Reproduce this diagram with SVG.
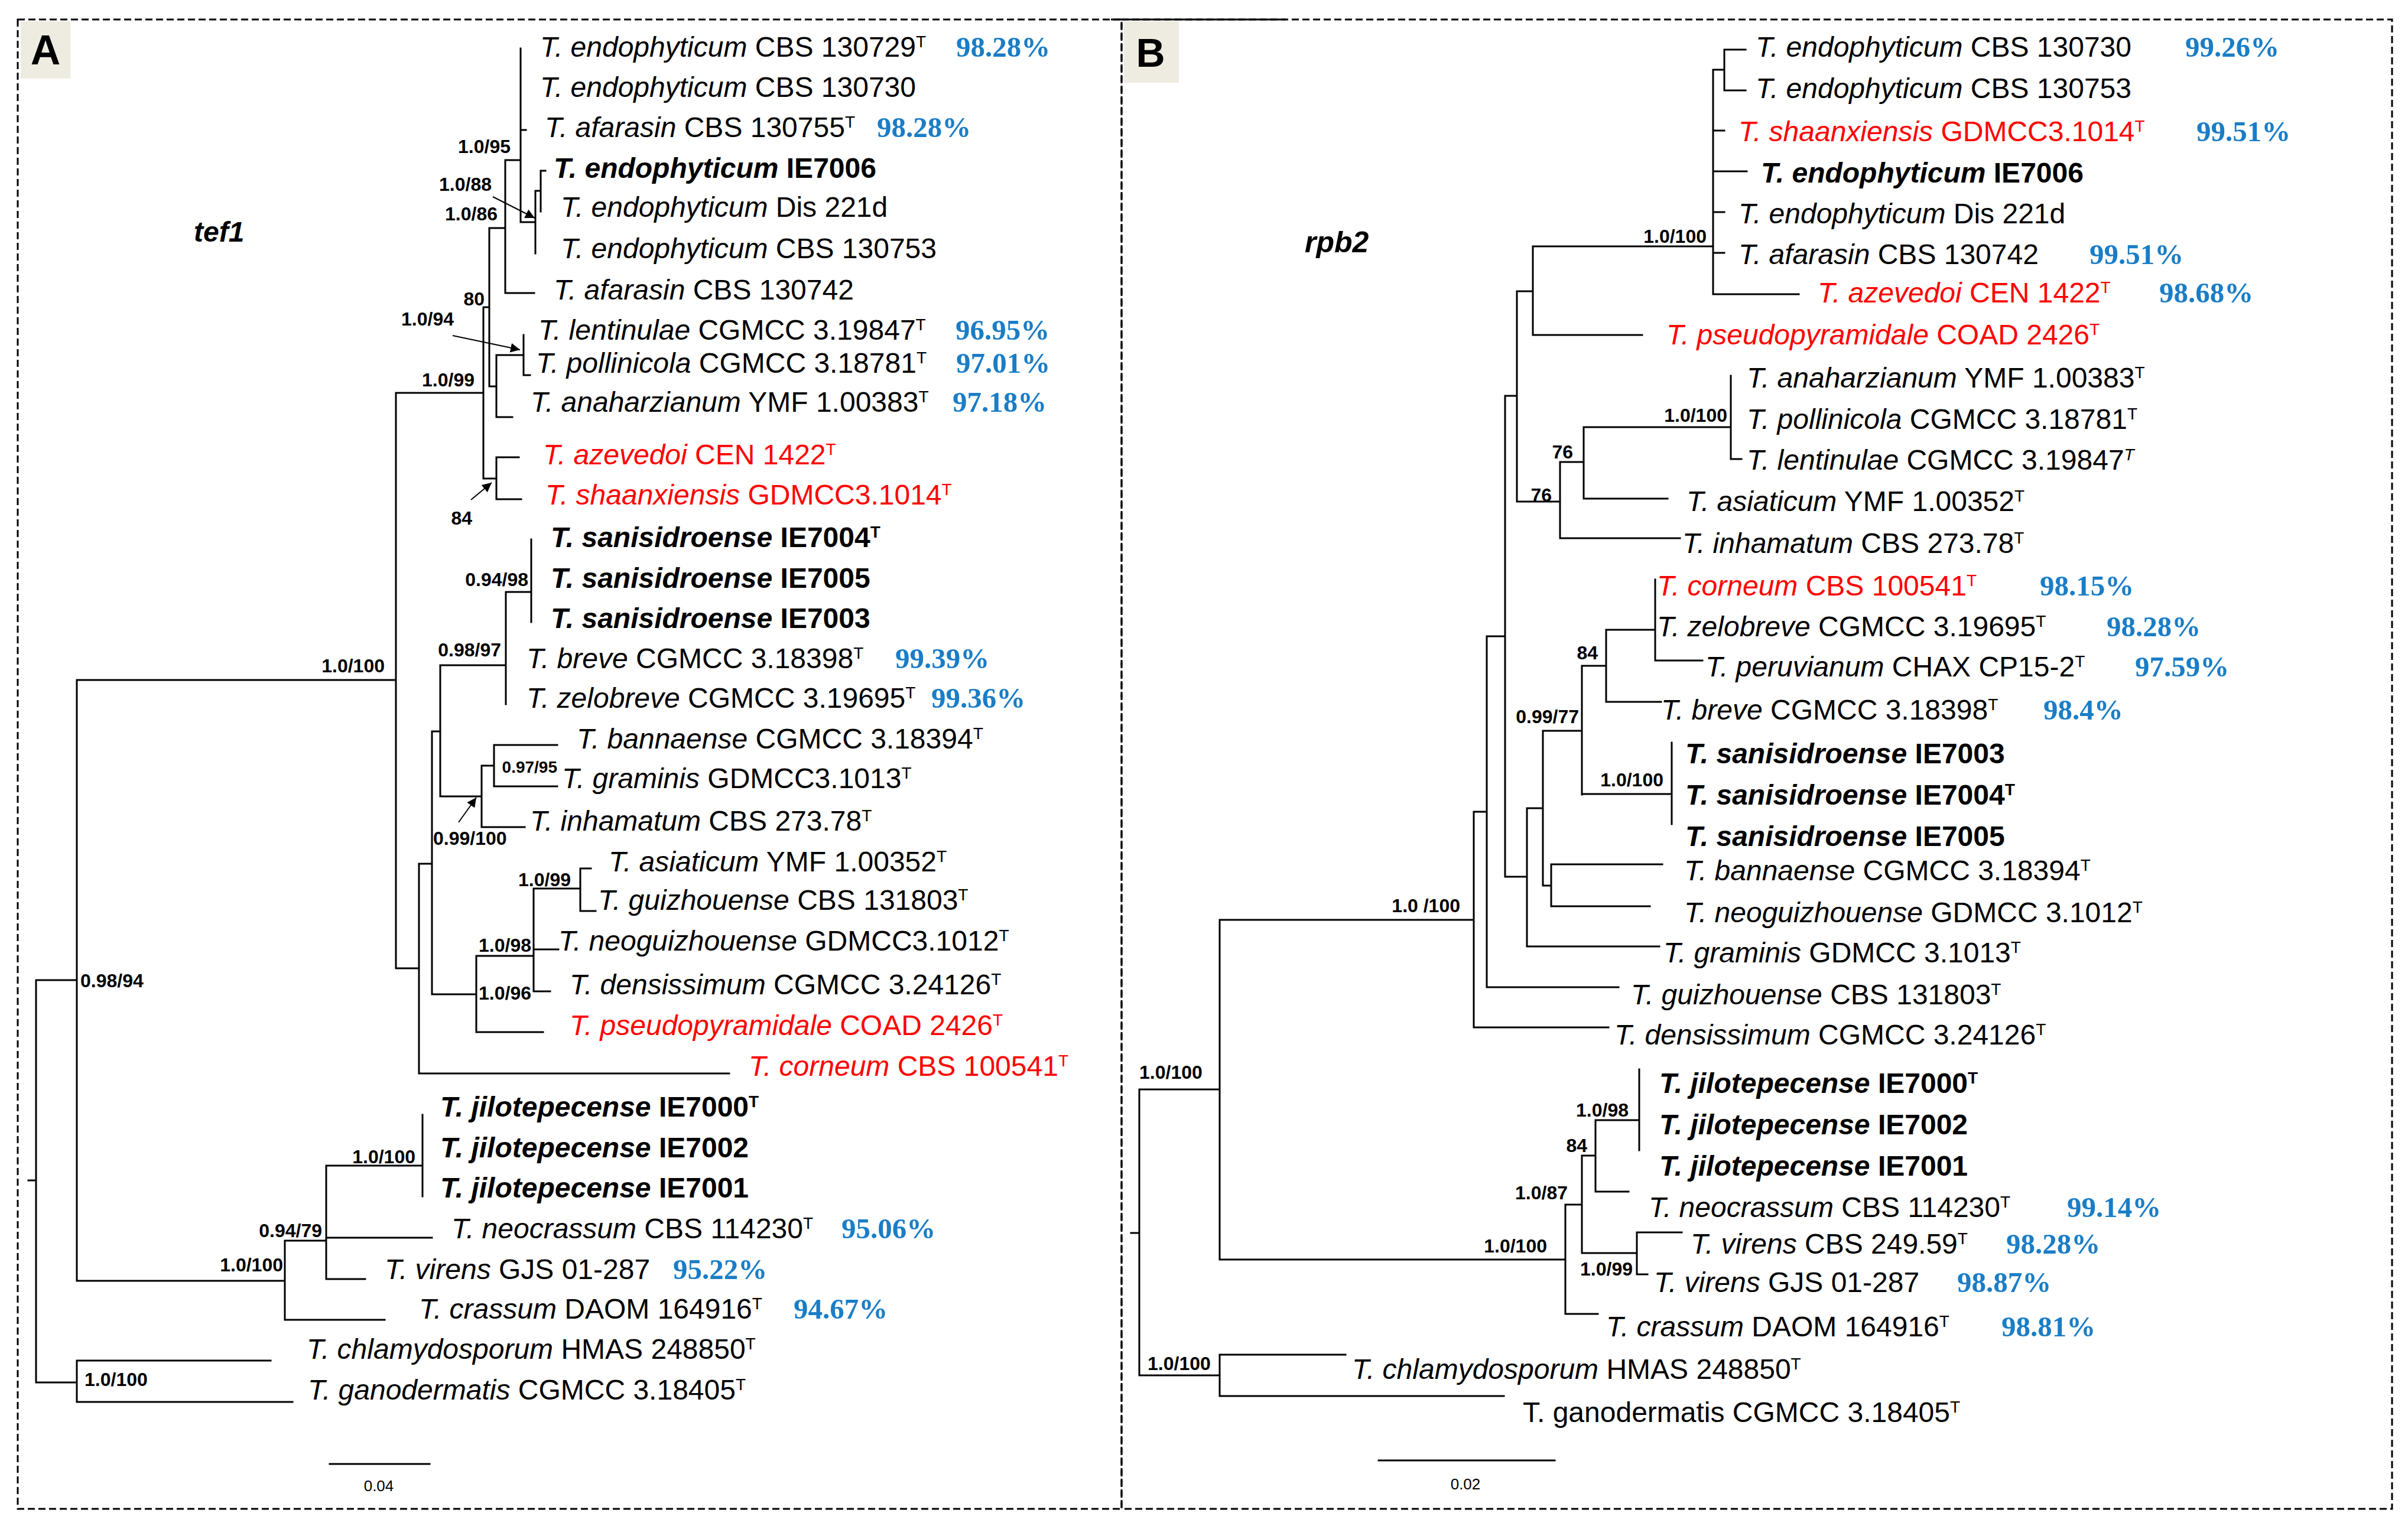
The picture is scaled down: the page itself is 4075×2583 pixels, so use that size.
<svg xmlns="http://www.w3.org/2000/svg" width="4075" height="2583" viewBox="0 0 4075 2583">
<style>
.tx{font-family:"Liberation Sans",Arial,sans-serif;font-size:48px;fill:#000}
.bd{font-weight:bold}
.rd{fill:#ff0000}
.i{font-style:italic}
.su{font-size:28px}
.pc{font-family:"Liberation Serif","Times New Roman",serif;font-weight:bold;font-size:49px;fill:#1a7dc6}
.sp{font-family:"Liberation Sans",Arial,sans-serif;font-weight:bold;font-size:32px;fill:#000}
.sm{font-size:28px}
.sc{font-family:"Liberation Sans",Arial,sans-serif;font-size:26px;fill:#000}
.ln{stroke:#000;stroke-width:3;fill:none;stroke-linecap:square}
.ar{stroke:#000;stroke-width:2;fill:none}
.fr{stroke:#000;stroke-width:3;fill:none;stroke-dasharray:12 6}
.lab{font-family:"Liberation Sans",Arial,sans-serif;font-weight:bold;fill:#000}
</style>
<defs>
<marker id="ah" viewBox="0 0 10 10" refX="10" refY="5" markerWidth="8" markerHeight="8" orient="auto" markerUnits="strokeWidth"><path d="M0,0 L10,5 L0,10 z" fill="#000"/></marker>
</defs>
<rect width="4075" height="2583" fill="#fff"/>
<g id="frames">
<rect class="fr" x="30" y="33" width="1868" height="2521"/>
<rect class="fr" x="1898" y="33" width="2150" height="2521"/>
<line x1="1880" y1="33" x2="2176" y2="33" stroke="#000" stroke-width="3"/>
</g>
<g id="panel-A-label"><rect x="35" y="36" width="84" height="97" fill="#eeebe0"/><text class="lab" x="77" y="109" font-size="70" text-anchor="middle">A</text></g>
<g id="panel-B-label"><rect x="1902" y="36" width="93" height="104" fill="#eeebe0"/><text class="lab" x="1947" y="113" font-size="68" text-anchor="middle">B</text></g>
<g id="gene-A"><text class="lab i" x="328" y="409" font-size="48">tef1</text></g>
<g id="gene-B"><text class="lab i" x="2208" y="427" font-size="50">rpb2</text></g>

<g id="connectors">
<path class="ln" d="M881,82 V376 M881,220 H890 M855,271 H881 M881,376 H906 M906,323 V429 M906,323 H915 M915,289 V358 M915,289 H923 M855,271 V496 M855,496 H904 M828,386 H855 M828,386 V654 M818,520 H828 M828,654 H840 M840,601 V706 M840,706 H867 M840,601 H886 M886,567 V635 M886,635 H897 M818,520 V810 M670,665 H818 M818,810 H840 M840,774 V845 M840,774 H878 M840,845 H882 M670,665 V1639 M130,1151 H670 M670,1639 H709 M709,1462 V1817 M709,1817 H1234 M709,1462 H731 M731,1238 V1683 M731,1238 H745 M745,1126 V1348 M745,1126 H856 M856,1002 V1192 M856,1002 H899 M899,913 V1053 M745,1348 H815 M815,1296 V1400 M815,1400 H888 M815,1296 H836 M836,1261 V1331 M836,1261 H943 M836,1331 H943 M731,1683 H806 M806,1618 V1747 M806,1747 H919 M806,1618 H903 M903,1504 V1678 M903,1607 H945 M903,1678 H931 M903,1504 H982 M982,1470 V1542 M982,1470 H1000 M982,1542 H1008 M61,1659 V2340 M48,1998 H61 M61,1659 H130 M130,1151 V2168 M130,2168 H482 M482,2100 V2234 M482,2234 H651 M482,2100 H552 M552,1973 V2165 M552,2095 H731 M552,2165 H618 M552,1973 H715 M715,1887 V2025 M61,2340 H130 M130,2303 V2373 M130,2303 H458 M130,2373 H495"/>
<path class="ln" d="M558,2478 H727"/>
<path class="ar" marker-end="url(#ah)" d="M834,333 L905,369"/>
<path class="ar" marker-end="url(#ah)" d="M766,568 L880,592"/>
<path class="ar" marker-end="url(#ah)" d="M797,846 L832,817"/>
<path class="ar" marker-end="url(#ah)" d="M776,1392 L806,1350"/>
<path class="ln" d="M2918,84 V153 M2918,84 H2954 M2918,153 H2954 M2899,118 H2918 M2899,118 V498 M2899,221 H2918 M2899,290 H2956 M2899,359 H2918 M2899,428 H2918 M2899,498 H3044 M2594,417 H2899 M2594,417 V567 M2594,567 H2779 M2567,493 H2594 M2567,493 V849 M2547,670 H2567 M2567,849 H2640 M2640,782 V911 M2640,911 H2843 M2640,782 H2680 M2680,723 V844 M2680,844 H2822 M2680,723 H2929 M2929,636 V777 M2929,777 H2947 M2547,670 V1484 M2516,1077 H2547 M2547,1484 H2584 M2584,1368 V1602 M2584,1602 H2808 M2584,1368 H2611 M2611,1237 V1499 M2611,1499 H2625 M2625,1463 V1534 M2625,1463 H2813 M2625,1534 H2792 M2611,1237 H2677 M2677,1127 V1345 M2677,1344 H2829 M2829,1257 V1395 M2677,1127 H2718 M2718,1066 V1188 M2718,1188 H2811 M2718,1066 H2801 M2801,981 V1118 M2801,1118 H2881 M2516,1077 V1671 M2516,1671 H2739 M2494,1374 H2516 M2494,1374 V1739 M2494,1739 H2722 M2064,1557 H2494 M2064,1557 V2132 M1928,1844 H2064 M2064,2132 H2649 M2649,2039 V2224 M2649,2224 H2704 M2649,2039 H2677 M2677,1956 V2121 M2677,1956 H2700 M2700,1896 V2017 M2700,2017 H2756 M2700,1896 H2774 M2774,1810 V1947 M2677,2121 H2770 M2770,2086 V2157 M2770,2086 H2846 M2770,2157 H2788 M1928,1844 V2328 M1914,2087 H1928 M1928,2328 H2064 M2064,2293 V2363 M2064,2293 H2277 M2064,2363 H2545"/>
<path class="ln" d="M2333,2472 H2631"/>
</g>

<g id="support-A">
<text class="sp" x="864" y="259" text-anchor="end">1.0/95</text>
<text class="sp" x="832" y="323" text-anchor="end">1.0/88</text>
<text class="sp" x="842" y="373" text-anchor="end">1.0/86</text>
<text class="sp" x="820" y="517" text-anchor="end">80</text>
<text class="sp" x="768" y="551" text-anchor="end">1.0/94</text>
<text class="sp" x="803" y="654" text-anchor="end">1.0/99</text>
<text class="sp" x="799" y="888" text-anchor="end">84</text>
<text class="sp" x="894" y="992" text-anchor="end">0.94/98</text>
<text class="sp" x="848" y="1111" text-anchor="end">0.98/97</text>
<text class="sp" x="651" y="1138" text-anchor="end">1.0/100</text>
<text class="sp sm" x="943" y="1308" text-anchor="end">0.97/95</text>
<text class="sp" x="733" y="1430">0.99/100</text>
<text class="sp" x="966" y="1500" text-anchor="end">1.0/99</text>
<text class="sp" x="899" y="1611" text-anchor="end">1.0/98</text>
<text class="sp" x="899" y="1692" text-anchor="end">1.0/96</text>
<text class="sp" x="136" y="1671">0.98/94</text>
<text class="sp" x="703" y="1969" text-anchor="end">1.0/100</text>
<text class="sp" x="545" y="2094" text-anchor="end">0.94/79</text>
<text class="sp" x="479" y="2152" text-anchor="end">1.0/100</text>
<text class="sp" x="143" y="2346">1.0/100</text>
<text class="sc" x="641" y="2524" text-anchor="middle">0.04</text>
</g>

<g id="support-B">
<text class="sp" x="2888" y="411" text-anchor="end">1.0/100</text>
<text class="sp" x="2923" y="714" text-anchor="end">1.0/100</text>
<text class="sp" x="2662" y="776" text-anchor="end">76</text>
<text class="sp" x="2626" y="849" text-anchor="end">76</text>
<text class="sp" x="2704" y="1116" text-anchor="end">84</text>
<text class="sp" x="2672" y="1224" text-anchor="end">0.99/77</text>
<text class="sp" x="2815" y="1331" text-anchor="end">1.0/100</text>
<text class="sp" x="2471" y="1544" text-anchor="end">1.0 /100</text>
<text class="sp" x="1928" y="1826">1.0/100</text>
<text class="sp" x="2756" y="1890" text-anchor="end">1.0/98</text>
<text class="sp" x="2686" y="1950" text-anchor="end">84</text>
<text class="sp" x="2653" y="2030" text-anchor="end">1.0/87</text>
<text class="sp" x="2618" y="2120" text-anchor="end">1.0/100</text>
<text class="sp" x="2763" y="2159" text-anchor="end">1.0/99</text>
<text class="sp" x="1942" y="2319">1.0/100</text>
<text class="sc" x="2480" y="2521" text-anchor="middle">0.02</text>
</g>

<g id="taxa-A">
<g id="A01"><text class="tx" x="914" y="96"><tspan class="i">T. endophyticum</tspan> CBS 130729<tspan class="su" dy="-16">T</tspan></text><text class="pc" x="1618" y="96">98.28%</text></g>
<g id="A02"><text class="tx" x="914" y="164"><tspan class="i">T. endophyticum</tspan> CBS 130730</text></g>
<g id="A03"><text class="tx" x="922" y="232"><tspan class="i">T. afarasin</tspan> CBS 130755<tspan class="su" dy="-16">T</tspan></text><text class="pc" x="1484" y="232">98.28%</text></g>
<g id="A04"><text class="tx bd" x="937" y="301"><tspan class="i">T. endophyticum</tspan> IE7006</text></g>
<g id="A05"><text class="tx" x="949" y="367"><tspan class="i">T. endophyticum</tspan> Dis 221d</text></g>
<g id="A06"><text class="tx" x="949" y="437"><tspan class="i">T. endophyticum</tspan> CBS 130753</text></g>
<g id="A07"><text class="tx" x="937" y="507"><tspan class="i">T. afarasin</tspan> CBS 130742</text></g>
<g id="A08"><text class="tx" x="911" y="575"><tspan class="i">T. lentinulae</tspan> CGMCC 3.19847<tspan class="su" dy="-16">T</tspan></text><text class="pc" x="1617" y="575">96.95%</text></g>
<g id="A09"><text class="tx" x="907" y="631"><tspan class="i">T. pollinicola</tspan> CGMCC 3.18781<tspan class="su" dy="-16">T</tspan></text><text class="pc" x="1618" y="631">97.01%</text></g>
<g id="A10"><text class="tx" x="898" y="697"><tspan class="i">T. anaharzianum</tspan> YMF 1.00383<tspan class="su" dy="-16">T</tspan></text><text class="pc" x="1612" y="697">97.18%</text></g>
<g id="A11"><text class="tx rd" x="919" y="786"><tspan class="i">T. azevedoi</tspan> CEN 1422<tspan class="su" dy="-16">T</tspan></text></g>
<g id="A12"><text class="tx rd" x="923" y="854"><tspan class="i">T. shaanxiensis</tspan> GDMCC3.1014<tspan class="su" dy="-16">T</tspan></text></g>
<g id="A13"><text class="tx bd" x="932" y="926"><tspan class="i">T. sanisidroense</tspan> IE7004<tspan class="su" dy="-16">T</tspan></text></g>
<g id="A14"><text class="tx bd" x="932" y="995"><tspan class="i">T. sanisidroense</tspan> IE7005</text></g>
<g id="A15"><text class="tx bd" x="932" y="1063"><tspan class="i">T. sanisidroense</tspan> IE7003</text></g>
<g id="A16"><text class="tx" x="891" y="1131"><tspan class="i">T. breve</tspan> CGMCC 3.18398<tspan class="su" dy="-16">T</tspan></text><text class="pc" x="1515" y="1131">99.39%</text></g>
<g id="A17"><text class="tx" x="891" y="1198"><tspan class="i">T. zelobreve</tspan> CGMCC 3.19695<tspan class="su" dy="-16">T</tspan></text><text class="pc" x="1576" y="1198">99.36%</text></g>
<g id="A18"><text class="tx" x="976" y="1267"><tspan class="i">T. bannaense</tspan> CGMCC 3.18394<tspan class="su" dy="-16">T</tspan></text></g>
<g id="A19"><text class="tx" x="951" y="1334"><tspan class="i">T. graminis</tspan> GDMCC3.1013<tspan class="su" dy="-16">T</tspan></text></g>
<g id="A20"><text class="tx" x="897" y="1406"><tspan class="i">T. inhamatum</tspan> CBS 273.78<tspan class="su" dy="-16">T</tspan></text></g>
<g id="A21"><text class="tx" x="1030" y="1475"><tspan class="i">T. asiaticum</tspan> YMF 1.00352<tspan class="su" dy="-16">T</tspan></text></g>
<g id="A22"><text class="tx" x="1012" y="1540"><tspan class="i">T. guizhouense</tspan> CBS 131803<tspan class="su" dy="-16">T</tspan></text></g>
<g id="A23"><text class="tx" x="945" y="1609"><tspan class="i">T. neoguizhouense</tspan> GDMCC3.1012<tspan class="su" dy="-16">T</tspan></text></g>
<g id="A24"><text class="tx" x="964" y="1683"><tspan class="i">T. densissimum</tspan> CGMCC 3.24126<tspan class="su" dy="-16">T</tspan></text></g>
<g id="A25"><text class="tx rd" x="964" y="1752"><tspan class="i">T. pseudopyramidale</tspan> COAD 2426<tspan class="su" dy="-16">T</tspan></text></g>
<g id="A26"><text class="tx rd" x="1267" y="1821"><tspan class="i">T. corneum</tspan> CBS 100541<tspan class="su" dy="-16">T</tspan></text></g>
<g id="A27"><text class="tx bd" x="745" y="1890"><tspan class="i">T. jilotepecense</tspan> IE7000<tspan class="su" dy="-16">T</tspan></text></g>
<g id="A28"><text class="tx bd" x="745" y="1959"><tspan class="i">T. jilotepecense</tspan> IE7002</text></g>
<g id="A29"><text class="tx bd" x="745" y="2027"><tspan class="i">T. jilotepecense</tspan> IE7001</text></g>
<g id="A30"><text class="tx" x="764" y="2096"><tspan class="i">T. neocrassum</tspan> CBS 114230<tspan class="su" dy="-16">T</tspan></text><text class="pc" x="1424" y="2096">95.06%</text></g>
<g id="A31"><text class="tx" x="651" y="2165"><tspan class="i">T. virens</tspan> GJS 01-287</text><text class="pc" x="1139" y="2165">95.22%</text></g>
<g id="A32"><text class="tx" x="709" y="2232"><tspan class="i">T. crassum</tspan> DAOM 164916<tspan class="su" dy="-16">T</tspan></text><text class="pc" x="1343" y="2232">94.67%</text></g>
<g id="A33"><text class="tx" x="519" y="2300"><tspan class="i">T. chlamydosporum</tspan> HMAS 248850<tspan class="su" dy="-16">T</tspan></text></g>
<g id="A34"><text class="tx" x="521" y="2369"><tspan class="i">T. ganodermatis</tspan> CGMCC 3.18405<tspan class="su" dy="-16">T</tspan></text></g>
</g>

<g id="taxa-B">
<g id="B01"><text class="tx" x="2971" y="96"><tspan class="i">T. endophyticum</tspan> CBS 130730</text><text class="pc" x="3698" y="96">99.26%</text></g>
<g id="B02"><text class="tx" x="2971" y="166"><tspan class="i">T. endophyticum</tspan> CBS 130753</text></g>
<g id="B03"><text class="tx rd" x="2942" y="239"><tspan class="i">T. shaanxiensis</tspan> GDMCC3.1014<tspan class="su" dy="-16">T</tspan></text><text class="pc" x="3717" y="239">99.51%</text></g>
<g id="B04"><text class="tx bd" x="2980" y="309"><tspan class="i">T. endophyticum</tspan> IE7006</text></g>
<g id="B05"><text class="tx" x="2942" y="378"><tspan class="i">T. endophyticum</tspan> Dis 221d</text></g>
<g id="B06"><text class="tx" x="2942" y="447"><tspan class="i">T. afarasin</tspan> CBS 130742</text><text class="pc" x="3536" y="447">99.51%</text></g>
<g id="B07"><text class="tx rd" x="3076" y="512"><tspan class="i">T. azevedoi</tspan> CEN 1422<tspan class="su" dy="-16">T</tspan></text><text class="pc" x="3654" y="512">98.68%</text></g>
<g id="B08"><text class="tx rd" x="2820" y="583"><tspan class="i">T. pseudopyramidale</tspan> COAD 2426<tspan class="su" dy="-16">T</tspan></text></g>
<g id="B09"><text class="tx" x="2956" y="656"><tspan class="i">T. anaharzianum</tspan> YMF 1.00383<tspan class="su" dy="-16">T</tspan></text></g>
<g id="B10"><text class="tx" x="2956" y="726"><tspan class="i">T. pollinicola</tspan> CGMCC 3.18781<tspan class="su" dy="-16">T</tspan></text></g>
<g id="B11"><text class="tx" x="2956" y="795"><tspan class="i">T. lentinulae</tspan> CGMCC 3.19847<tspan class="su i" dy="-16">T</tspan></text></g>
<g id="B12"><text class="tx" x="2854" y="865"><tspan class="i">T. asiaticum</tspan> YMF 1.00352<tspan class="su" dy="-16">T</tspan></text></g>
<g id="B13"><text class="tx" x="2847" y="936"><tspan class="i">T. inhamatum</tspan> CBS 273.78<tspan class="su" dy="-16">T</tspan></text></g>
<g id="B14"><text class="tx rd" x="2804" y="1008"><tspan class="i">T. corneum</tspan> CBS 100541<tspan class="su" dy="-16">T</tspan></text><text class="pc" x="3452" y="1008">98.15%</text></g>
<g id="B15"><text class="tx" x="2804" y="1077"><tspan class="i">T. zelobreve</tspan> CGMCC 3.19695<tspan class="su" dy="-16">T</tspan></text><text class="pc" x="3565" y="1077">98.28%</text></g>
<g id="B16"><text class="tx" x="2886" y="1145"><tspan class="i">T. peruvianum</tspan> CHAX CP15-2<tspan class="su" dy="-16">T</tspan></text><text class="pc" x="3613" y="1145">97.59%</text></g>
<g id="B17"><text class="tx" x="2811" y="1218"><tspan class="i">T. breve</tspan> CGMCC 3.18398<tspan class="su" dy="-16">T</tspan></text><text class="pc" x="3458" y="1218">98.4%</text></g>
<g id="B18"><text class="tx bd" x="2852" y="1292"><tspan class="i">T. sanisidroense</tspan> IE7003</text></g>
<g id="B19"><text class="tx bd" x="2852" y="1362"><tspan class="i">T. sanisidroense</tspan> IE7004<tspan class="su" dy="-16">T</tspan></text></g>
<g id="B20"><text class="tx bd" x="2852" y="1432"><tspan class="i">T. sanisidroense</tspan> IE7005</text></g>
<g id="B21"><text class="tx" x="2850" y="1490"><tspan class="i">T. bannaense</tspan> CGMCC 3.18394<tspan class="su" dy="-16">T</tspan></text></g>
<g id="B22"><text class="tx" x="2850" y="1561"><tspan class="i">T. neoguizhouense</tspan> GDMCC 3.1012<tspan class="su" dy="-16">T</tspan></text></g>
<g id="B23"><text class="tx" x="2815" y="1629"><tspan class="i">T. graminis</tspan> GDMCC 3.1013<tspan class="su" dy="-16">T</tspan></text></g>
<g id="B24"><text class="tx" x="2760" y="1700"><tspan class="i">T. guizhouense</tspan> CBS 131803<tspan class="su" dy="-16">T</tspan></text></g>
<g id="B25"><text class="tx" x="2732" y="1768"><tspan class="i">T. densissimum</tspan> CGMCC 3.24126<tspan class="su" dy="-16">T</tspan></text></g>
<g id="B26"><text class="tx bd" x="2808" y="1850"><tspan class="i">T. jilotepecense</tspan> IE7000<tspan class="su" dy="-16">T</tspan></text></g>
<g id="B27"><text class="tx bd" x="2808" y="1920"><tspan class="i">T. jilotepecense</tspan> IE7002</text></g>
<g id="B28"><text class="tx bd" x="2808" y="1990"><tspan class="i">T. jilotepecense</tspan> IE7001</text></g>
<g id="B29"><text class="tx" x="2790" y="2060"><tspan class="i">T. neocrassum</tspan> CBS 114230<tspan class="su" dy="-16">T</tspan></text><text class="pc" x="3498" y="2060">99.14%</text></g>
<g id="B30"><text class="tx" x="2861" y="2122"><tspan class="i">T. virens</tspan> CBS 249.59<tspan class="su" dy="-16">T</tspan></text><text class="pc" x="3395" y="2122">98.28%</text></g>
<g id="B31"><text class="tx" x="2799" y="2187"><tspan class="i">T. virens</tspan> GJS 01-287</text><text class="pc" x="3312" y="2187">98.87%</text></g>
<g id="B32"><text class="tx" x="2718" y="2262"><tspan class="i">T. crassum</tspan> DAOM 164916<tspan class="su" dy="-16">T</tspan></text><text class="pc" x="3387" y="2262">98.81%</text></g>
<g id="B33"><text class="tx" x="2288" y="2334"><tspan class="i">T. chlamydosporum</tspan> HMAS 248850<tspan class="su" dy="-16">T</tspan></text></g>
<g id="B34"><text class="tx" x="2577" y="2407">T. ganodermatis CGMCC 3.18405<tspan class="su" dy="-16">T</tspan></text></g>
</g>
</svg>
